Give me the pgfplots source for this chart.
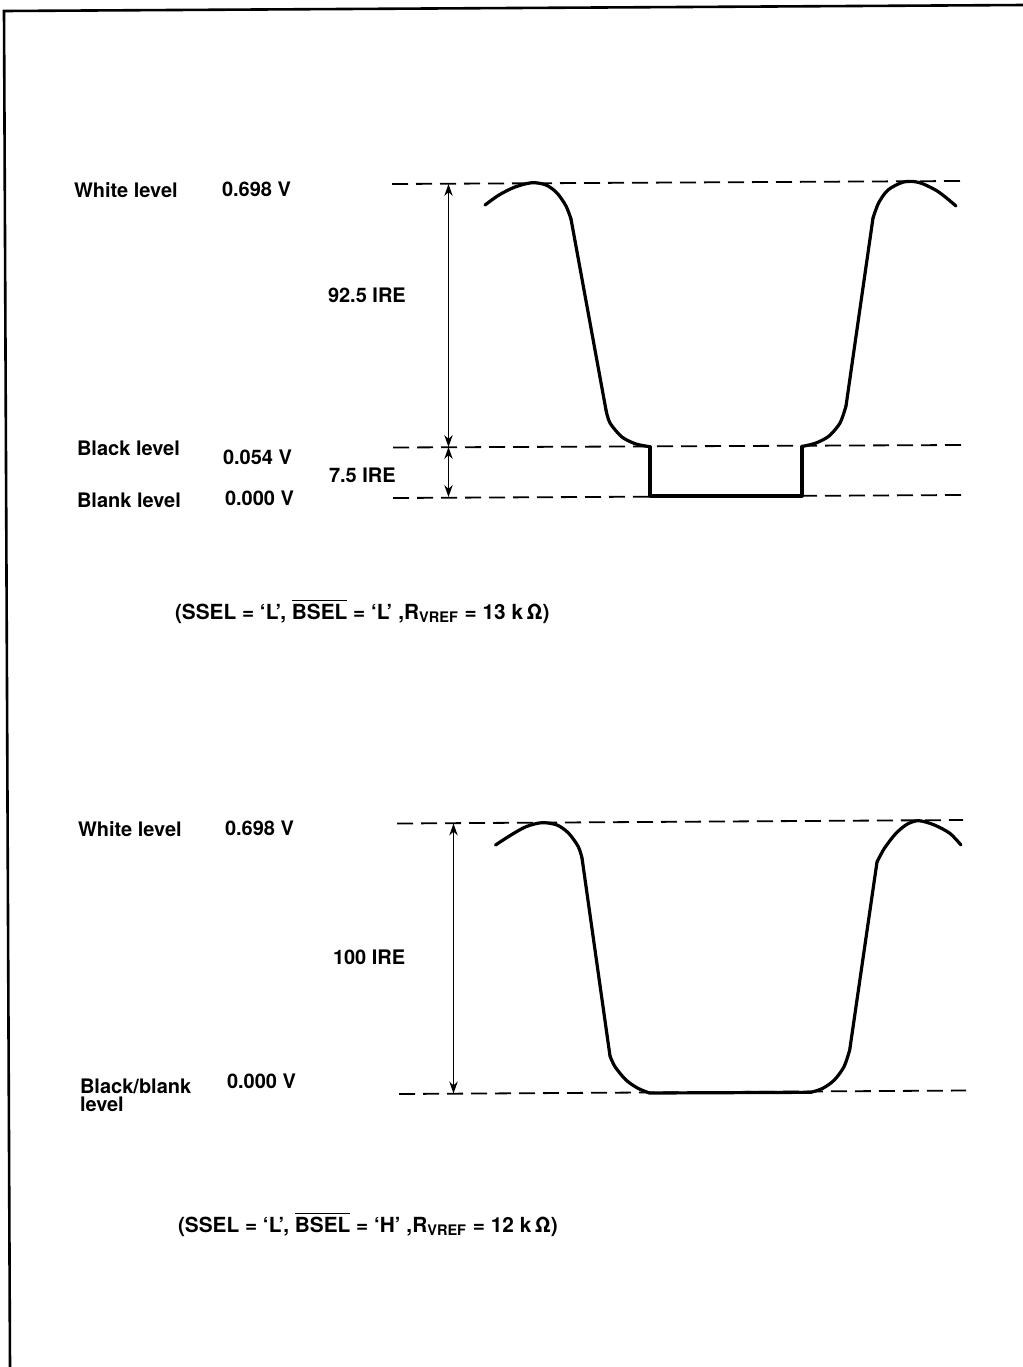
\documentclass[border=0pt]{standalone}
\usepackage{fontspec}
\setmainfont{TeX Gyre Heros}
\usepackage{pgfplots}
\pgfplotsset{compat=1.18}
\usetikzlibrary{arrows.meta}
\tikzset{lab/.style={inner sep=0pt, outer sep=0pt, anchor=base west, font=\fontsize{10}{12}\selectfont\bfseries},
  captxt/.style={inner sep=0pt, outer sep=0pt, anchor=base west, font=\fontsize{10.4}{12}\selectfont\bfseries}}
\begin{document}
\begin{tikzpicture}
\fontsize{10}{12}\selectfont\bfseries
\begin{axis}[width=511.5pt, height=683.5pt, scale only axis,
  xmin=0, xmax=1023, ymin=0, ymax=1367, y dir=reverse,
  hide axis, clip=false,
  wave/.style={black, line width=1.6pt, line join=round, line cap=round},
  lvl/.style={black, line width=0.9pt, dash pattern=on 8pt off 4pt},
  dim/.style={black, line width=0.6pt, {Stealth[length=6pt,width=4.2pt]}-{Stealth[length=6pt,width=4.2pt]}},
  frame/.style={black, line width=1.3pt}]
% invisible extent
\addplot[draw=none] coordinates {(0,0) (1023,1367)};
% frame
\addplot[frame] coordinates {(3,11) (1023,5)};
\addplot[frame] coordinates {(4,10) (10,1367)};

% ---------- top panel ----------
\addplot[lvl] coordinates {(392,184) (960,181)};
\addplot[lvl] coordinates {(393,447.5) (962,445)};
\addplot[lvl] coordinates {(393,498) (962,495)};
\addplot[dim] coordinates {(448.5,184) (448.5,447)};
\addplot[dim] coordinates {(448.5,447) (448.5,497)};
\addplot[wave, smooth] coordinates {(485,205) (499,195) (515,187) (532,182.7) (546,185) (557,193) (566,206) (571,219)};
\addplot[wave] coordinates {(571,219) (606,410)};
\addplot[wave, smooth] coordinates {(606,410) (610,423) (622,437) (636,444) (650,446.7)};
\addplot[wave] coordinates {(650,446.7) (650,496) (802,496) (802,446.5)};
\addplot[wave, smooth] coordinates {(802,446.5) (816,443) (829,436) (840,423) (846,406)};
\addplot[wave] coordinates {(846,406) (873,218)};
\addplot[wave, smooth] coordinates {(873,218) (878.6,203) (888,190) (903.6,182) (919,182.5) (938,191.5) (956,206)};

\node[lab] at (axis cs:74,197) {White level};
\node[lab] at (axis cs:222,196) {0.698 V};
\node[lab] at (axis cs:328,302) {92.5 IRE};
\node[lab] at (axis cs:77,455) {Black level};
\node[lab] at (axis cs:223,464) {0.054 V};
\node[lab] at (axis cs:329,482.5) {7.5 IRE};
\node[lab] at (axis cs:77,507) {Blank level};
\node[lab] at (axis cs:225,505) {0.000 V};
\node[captxt] at (axis cs:175,619) {(SSEL = `L', $\overline{\mbox{BSEL}}$ = `L' ,R\textsubscript{VREF} = 13 k\,Ω)};

% ---------- bottom panel ----------
\addplot[lvl] coordinates {(397,823.5) (963,820)};
\addplot[lvl] coordinates {(399,1094) (966,1090.5)};
\addplot[dim] coordinates {(453.5,823.5) (453.5,1093.5)};
\addplot[wave, smooth] coordinates {(495.5,845) (511,835) (526,826.7) (541.7,822.7) (557,825) (568.7,833.3) (578.3,846.7) (582,858)};
\addplot[wave] coordinates {(582,858) (610,1056)};
\addplot[wave, smooth] coordinates {(610,1056) (615,1066.7) (626,1080) (638,1088.3) (649.5,1093)};
\addplot[wave] coordinates {(649.5,1093) (811,1092.3)};
\addplot[wave, smooth] coordinates {(811,1092.3) (822.8,1088.3) (834.3,1080) (844,1066.7) (849.7,1050)};
\addplot[wave] coordinates {(849.7,1050) (877,862)};
\addplot[wave, smooth] coordinates {(877,862) (884.4,848.3) (896,833.3) (907.5,824) (919,820.7) (934.4,825) (949.8,833.3) (961,845)};

\node[lab] at (axis cs:78,836.5) {White level};
\node[lab] at (axis cs:225,835) {0.698 V};
\node[lab] at (axis cs:333,964.5) {100 IRE};
\node[lab] at (axis cs:80,1093) {Black/blank};
\node[lab] at (axis cs:80,1111.5) {level};
\node[lab] at (axis cs:227,1088.5) {0.000 V};
\node[captxt] at (axis cs:178,1232) {(SSEL = `L', $\overline{\mbox{BSEL}}$ = `H' ,R\textsubscript{VREF} = 12 k\,Ω)};
\end{axis}
\pgfresetboundingbox
\path (current axis.south west) rectangle (current axis.north east);
\end{tikzpicture}
\end{document}
